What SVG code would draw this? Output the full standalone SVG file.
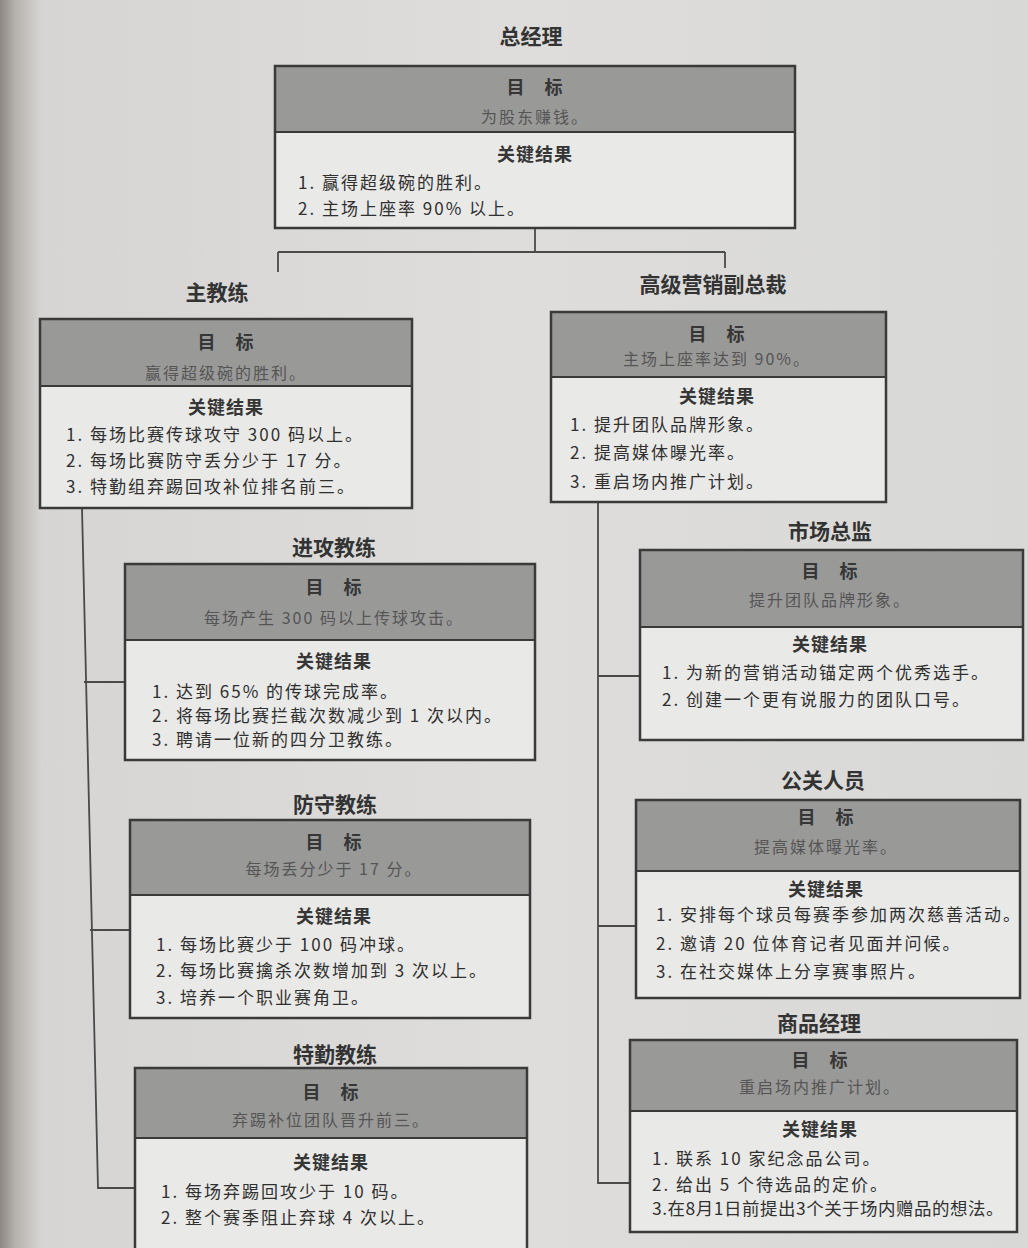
<svg xmlns="http://www.w3.org/2000/svg" width="1028" height="1248" viewBox="0 0 1028 1248">
<defs>
<linearGradient id="page" x1="0" y1="0" x2="1" y2="0">
<stop offset="0" stop-color="#8d8782"/>
<stop offset="0.015" stop-color="#b5b1ad"/>
<stop offset="0.04" stop-color="#d6d5d3"/>
<stop offset="0.5" stop-color="#dedddb"/>
<stop offset="1" stop-color="#d8d8d6"/>
</linearGradient>
<style>
.hd{fill:#999998;stroke:none}
.bd{fill:#e9e9e7;stroke:none}
.frame{fill:none;stroke:#3a3a3a;stroke-width:2.5}
.div{stroke:#3a3a3a;stroke-width:2}
.ttl{font-family:"Noto Sans CJK SC","Noto Sans",sans-serif;font-weight:bold;font-size:21px;fill:#333;text-anchor:middle}
.lab{font-family:"Noto Sans CJK SC","Noto Sans",sans-serif;font-weight:bold;font-size:18px;fill:#363636;text-anchor:middle;letter-spacing:1px}
.goal{font-family:"Noto Sans CJK SC","Noto Sans",sans-serif;font-size:16px;fill:#555;text-anchor:middle;letter-spacing:2px}
.kr{font-family:"Noto Sans CJK SC","Noto Sans",sans-serif;font-size:17px;fill:#303030;letter-spacing:2px}
.con{fill:none;stroke:#4a4a4a;stroke-width:1.8}
</style>
</defs>
<rect x="0" y="0" width="1028" height="1248" fill="url(#page)"/>

<g id="connectors">
<path class="con" d="M535 228 V251 M278 252 H725 M278 252 V272 M725 252 V268"/>
<path class="con" d="M82 508 L98 1188 H135 M84 682 H125 M90 930 H130"/>
<path class="con" d="M598 502 V1183 H630 M598 676 H640 M598 926 H636"/>
</g>

<g id="gm">
<text class="ttl" x="531" y="44">总经理</text>
<rect class="hd" x="275" y="66" width="520" height="66"/>
<rect class="bd" x="275" y="132" width="520" height="96"/>
<line class="div" x1="275" y1="132" x2="795" y2="132"/>
<rect class="frame" x="275" y="66" width="520" height="162"/>
<text class="lab" x="535" y="94">目　标</text>
<text class="goal" x="535" y="123">为股东赚钱。</text>
<text class="lab" x="535" y="161">关键结果</text>
<text class="kr" x="298" y="189">1. 赢得超级碗的胜利。</text>
<text class="kr" x="298" y="215">2. 主场上座率 90% 以上。</text>
</g>

<g id="head-coach">
<text class="ttl" x="217" y="300">主教练</text>
<rect class="hd" x="40" y="319" width="372" height="67"/>
<rect class="bd" x="40" y="386" width="372" height="122"/>
<line class="div" x1="40" y1="386" x2="412" y2="386"/>
<rect class="frame" x="40" y="319" width="372" height="189"/>
<text class="lab" x="226" y="349">目　标</text>
<text class="goal" x="226" y="379">赢得超级碗的胜利。</text>
<text class="lab" x="226" y="414">关键结果</text>
<text class="kr" x="66" y="441">1. 每场比赛传球攻守 300 码以上。</text>
<text class="kr" x="66" y="467">2. 每场比赛防守丢分少于 17 分。</text>
<text class="kr" x="66" y="493">3. 特勤组弃踢回攻补位排名前三。</text>
</g>

<g id="vp-marketing">
<text class="ttl" x="713" y="292">高级营销副总裁</text>
<rect class="hd" x="551" y="312" width="335" height="65"/>
<rect class="bd" x="551" y="377" width="335" height="125"/>
<line class="div" x1="551" y1="377" x2="886" y2="377"/>
<rect class="frame" x="551" y="312" width="335" height="190"/>
<text class="lab" x="717" y="341">目　标</text>
<text class="goal" x="717" y="365">主场上座率达到 90%。</text>
<text class="lab" x="717" y="403">关键结果</text>
<text class="kr" x="570" y="431">1. 提升团队品牌形象。</text>
<text class="kr" x="570" y="459">2. 提高媒体曝光率。</text>
<text class="kr" x="570" y="488">3. 重启场内推广计划。</text>
</g>

<g id="offense-coach">
<text class="ttl" x="334" y="555">进攻教练</text>
<rect class="hd" x="125" y="564" width="410" height="76"/>
<rect class="bd" x="125" y="640" width="410" height="120"/>
<line class="div" x1="125" y1="640" x2="535" y2="640"/>
<rect class="frame" x="125" y="564" width="410" height="196"/>
<text class="lab" x="334" y="594">目　标</text>
<text class="goal" x="334" y="624">每场产生 300 码以上传球攻击。</text>
<text class="lab" x="334" y="668">关键结果</text>
<text class="kr" x="152" y="698">1. 达到 65% 的传球完成率。</text>
<text class="kr" x="152" y="722">2. 将每场比赛拦截次数减少到 1 次以内。</text>
<text class="kr" x="152" y="746">3. 聘请一位新的四分卫教练。</text>
</g>

<g id="defense-coach">
<text class="ttl" x="335" y="812">防守教练</text>
<rect class="hd" x="130" y="820" width="400" height="75"/>
<rect class="bd" x="130" y="895" width="400" height="123"/>
<line class="div" x1="130" y1="895" x2="530" y2="895"/>
<rect class="frame" x="130" y="820" width="400" height="198"/>
<text class="lab" x="334" y="849">目　标</text>
<text class="goal" x="334" y="875">每场丢分少于 17 分。</text>
<text class="lab" x="334" y="923">关键结果</text>
<text class="kr" x="156" y="951">1. 每场比赛少于 100 码冲球。</text>
<text class="kr" x="156" y="977">2. 每场比赛擒杀次数增加到 3 次以上。</text>
<text class="kr" x="156" y="1004">3. 培养一个职业赛角卫。</text>
</g>

<g id="special-teams-coach">
<text class="ttl" x="335" y="1062">特勤教练</text>
<rect class="hd" x="135" y="1068" width="392" height="70"/>
<rect class="bd" x="135" y="1138" width="392" height="118"/>
<line class="div" x1="135" y1="1138" x2="527" y2="1138"/>
<rect class="frame" x="135" y="1068" width="392" height="188"/>
<text class="lab" x="331" y="1099">目　标</text>
<text class="goal" x="331" y="1126">弃踢补位团队晋升前三。</text>
<text class="lab" x="331" y="1169">关键结果</text>
<text class="kr" x="161" y="1198">1. 每场弃踢回攻少于 10 码。</text>
<text class="kr" x="161" y="1224">2. 整个赛季阻止弃球 4 次以上。</text>
</g>

<g id="marketing-director">
<text class="ttl" x="830" y="539">市场总监</text>
<rect class="hd" x="640" y="550" width="383" height="77"/>
<rect class="bd" x="640" y="627" width="383" height="113"/>
<line class="div" x1="640" y1="627" x2="1023" y2="627"/>
<rect class="frame" x="640" y="550" width="383" height="190"/>
<text class="lab" x="830" y="578">目　标</text>
<text class="goal" x="830" y="606">提升团队品牌形象。</text>
<text class="lab" x="830" y="651">关键结果</text>
<text class="kr" x="662" y="679">1. 为新的营销活动锚定两个优秀选手。</text>
<text class="kr" x="662" y="706">2. 创建一个更有说服力的团队口号。</text>
</g>

<g id="pr">
<text class="ttl" x="823" y="788">公关人员</text>
<rect class="hd" x="636" y="800" width="384" height="71"/>
<rect class="bd" x="636" y="871" width="384" height="127"/>
<line class="div" x1="636" y1="871" x2="1020" y2="871"/>
<rect class="frame" x="636" y="800" width="384" height="198"/>
<text class="lab" x="826" y="824">目　标</text>
<text class="goal" x="826" y="853">提高媒体曝光率。</text>
<text class="lab" x="826" y="896">关键结果</text>
<text class="kr" x="656" y="921">1. 安排每个球员每赛季参加两次慈善活动。</text>
<text class="kr" x="656" y="950">2. 邀请 20 位体育记者见面并问候。</text>
<text class="kr" x="656" y="978">3. 在社交媒体上分享赛事照片。</text>
</g>

<g id="merch-manager">
<text class="ttl" x="819" y="1031">商品经理</text>
<rect class="hd" x="630" y="1040" width="387" height="71"/>
<rect class="bd" x="630" y="1111" width="387" height="121"/>
<line class="div" x1="630" y1="1111" x2="1017" y2="1111"/>
<rect class="frame" x="630" y="1040" width="387" height="192"/>
<text class="lab" x="820" y="1067">目　标</text>
<text class="goal" x="820" y="1093">重启场内推广计划。</text>
<text class="lab" x="820" y="1136">关键结果</text>
<text class="kr" x="652" y="1165">1. 联系 10 家纪念品公司。</text>
<text class="kr" x="652" y="1191">2. 给出 5 个待选品的定价。</text>
<text class="kr" x="652" y="1215" style="letter-spacing:0.5px" textLength="352" lengthAdjust="spacingAndGlyphs">3.在8月1日前提出3个关于场内赠品的想法。</text>
</g>
</svg>
